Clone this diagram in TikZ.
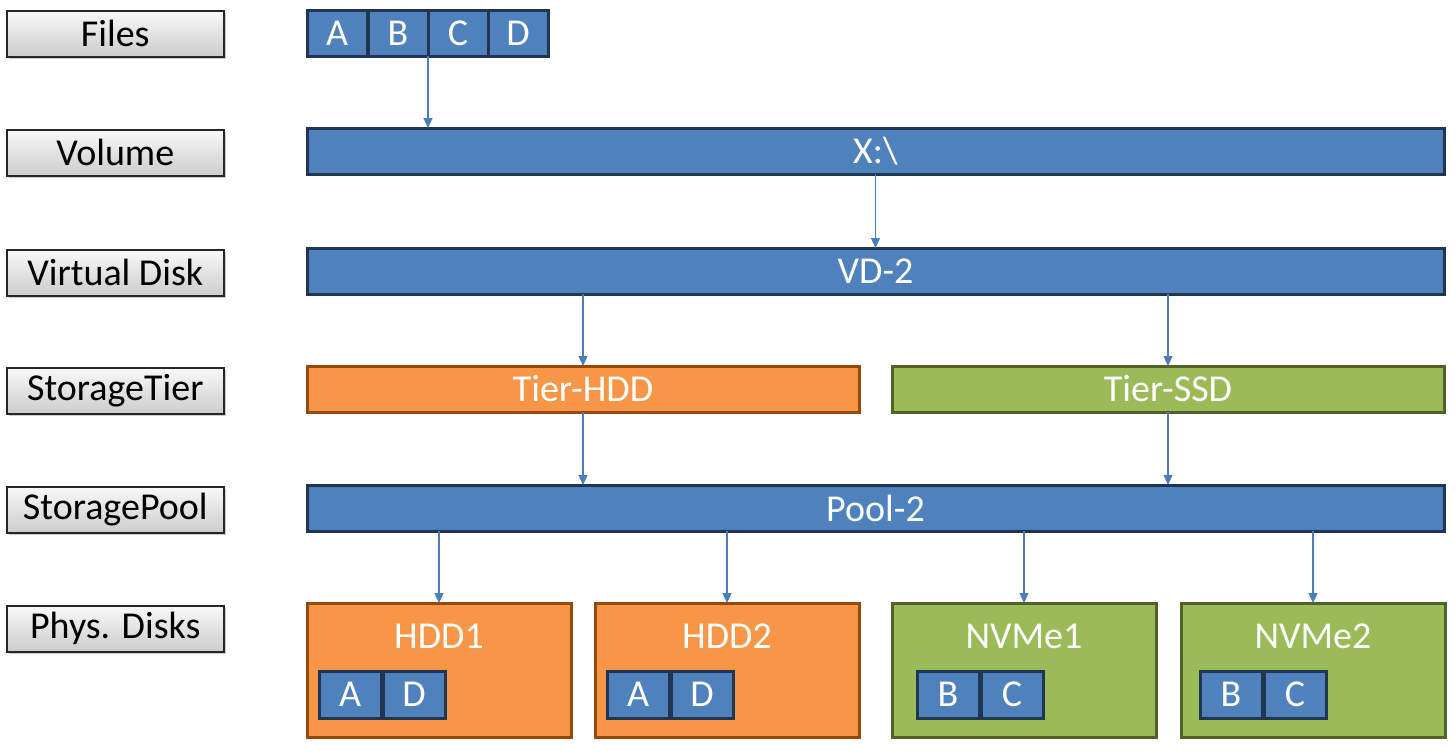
\documentclass[tikz,border=0pt]{standalone}
\usepackage{fontspec}
\setmainfont{Carlito}
\usetikzlibrary{positioning,calc,shadows,arrows.meta}
\definecolor{msblue}{HTML}{4F81BD}
\definecolor{msblueline}{HTML}{1F3552}
\definecolor{msorange}{HTML}{F79646}
\definecolor{msorangeline}{HTML}{984807}
\definecolor{msgreen}{HTML}{9BBB59}
\definecolor{msgreenline}{HTML}{4F6228}
\definecolor{arrowblue}{HTML}{4A7EBB}
\tikzset{
  layer/.style={draw=black!85, line width=1.6pt, top color=gray!5, bottom color=gray!40,
    drop shadow={shadow xshift=2.5pt, shadow yshift=-2.5pt, opacity=.4},
    minimum width=217pt, minimum height=46pt, anchor=north west, inner sep=0pt,
    font=\fontsize{38}{40}\selectfont},
  bar/.style={draw=msblueline, fill=msblue, line width=3pt, text=white, outer sep=0pt,
    minimum height=46pt, anchor=north west, inner sep=0pt, font=\fontsize{38}{40}\selectfont},
  hdd/.style={bar, draw=msorangeline, fill=msorange},
  ssd/.style={bar, draw=msgreenline, fill=msgreen},
  link/.style={arrowblue, line width=1.3pt, -{Triangle[width=9pt,length=10pt]}},
}
\begin{document}
\begin{tikzpicture}[x=1pt,y=-1pt]
  \useasboundingbox (0,0) rectangle (1455,753);
  % layer names
  \node[layer] (lFiles) at (6,10) {Files};
  \node[layer] (lVol) at (6,129) {Volume};
  \node[layer] (lVD) at (6,249) {Virtual Disk};
  \node[layer] (lTier) at (6,367) {StorageTier};
  \node[layer] (lPool) at (6,486) {StoragePool};
  \node[layer] (lDisk) at (6,605) {Phys. Disks};
  % files
  \node[bar, minimum width=60pt] (fA) at (307,10) {A};
  \node[bar, minimum width=60pt] (fB) at (368,10) {B};
  \node[bar, minimum width=60pt] (fC) at (428,10) {C};
  \node[bar, minimum width=60pt] (fD) at (488,10) {D};
  % stack
  \node[bar, minimum width=1137pt] (vol) at (307,128) {X:\textbackslash};
  \node[bar, minimum width=1137pt] (vd) at (307,248) {VD-2};
  \node[hdd, minimum width=552pt] (tHDD) at (307,366) {Tier-HDD};
  \node[ssd, minimum width=552pt] (tSSD) at (892,366) {Tier-SSD};
  \node[bar, minimum width=1137pt] (pool) at (307,485) {Pool-2};
  % disks
  \foreach \nm/\lbl/\x/\sty/\pa/\pb/\dx in {
      hA/HDD1/307/hdd/A/D/12, hB/HDD2/595/hdd/A/D/12,
      sA/NVMe1/892/ssd/B/C/25, sB/NVMe2/1181/ssd/B/C/19} {
    \node[\sty, minimum width=264pt, minimum height=134pt] (\nm) at (\x,603) {};
    \node[text=white, font=\fontsize{38}{40}\selectfont] (\nm t) at ($(\nm.north)+(0,33)$) {\lbl};
    \node[bar, minimum width=62pt, minimum height=47pt] (\nm1) at ($(\nm.north west)+(\dx,68)$) {\pa};
    \node[bar, minimum width=62pt, minimum height=47pt, right=2pt of \nm1] (\nm2) {\pb};
  }
  % connectors
  \draw[link] (fB.south east) -- (fB.south east |- vol.north);
  \draw[link] (vol) -- (vd.north);
  \draw[link] (vd.south -| tHDD) -- (tHDD.north);
  \draw[link] (vd.south -| tSSD) -- (tSSD.north);
  \draw[link] (tHDD) -- (tHDD.south |- pool.north);
  \draw[link] (tSSD) -- (tSSD.south |- pool.north);
  \foreach \nm in {hA,hB,sA,sB}
    \draw[link] (pool.south -| \nm) -- (\nm.north);
\end{tikzpicture}
\end{document}
